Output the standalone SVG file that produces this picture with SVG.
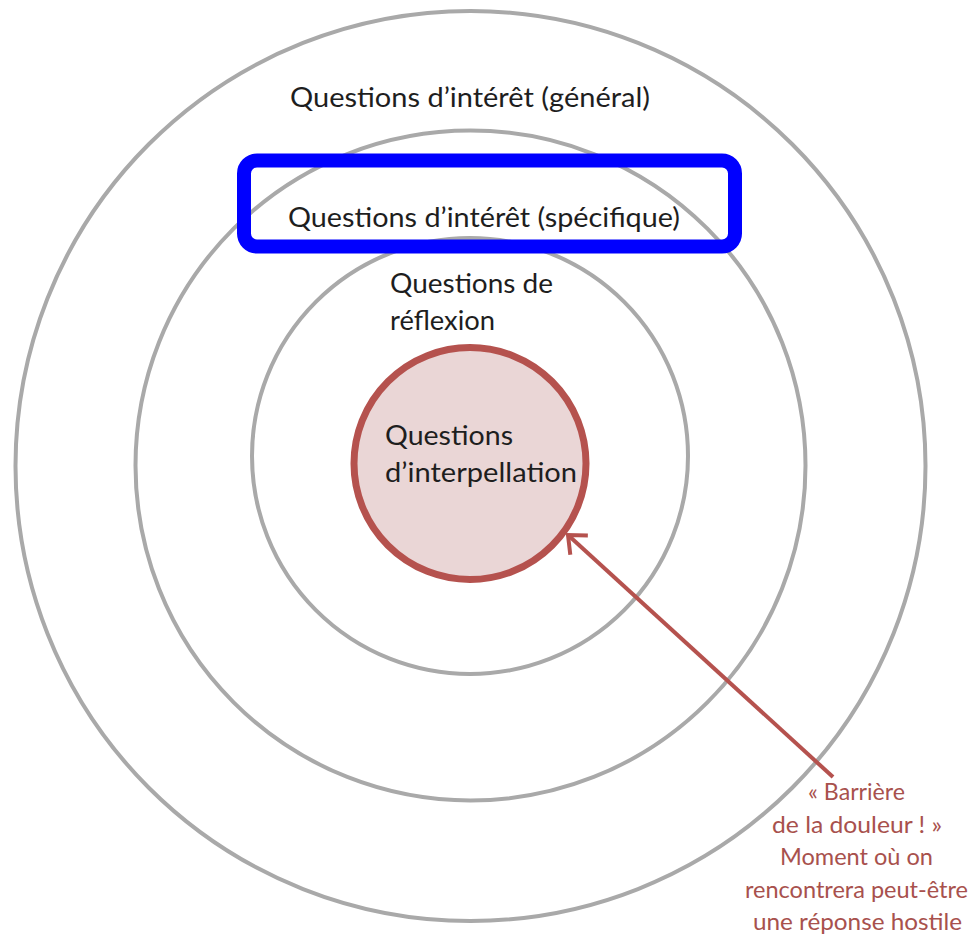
<svg xmlns="http://www.w3.org/2000/svg" width="971" height="938" viewBox="0 0 971 938">
<style>
.ring{fill:none;stroke:#a9a9a9;stroke-width:4}
.lbl{font-family:"Lato","Liberation Sans",sans-serif;font-size:26px;fill:#1e1e1e}
.note{font-family:"Lato","Liberation Sans",sans-serif;font-size:23px;fill:#a8514d}
</style>
<defs>
<marker id="arr" viewBox="-20 -16 24 32" refX="0" refY="0" markerWidth="24" markerHeight="32" markerUnits="userSpaceOnUse" orient="auto">
<path d="M-15,-13 L0,0 L-15,13" fill="none" stroke="#b5524e" stroke-width="4"/>
</marker>
</defs>
<rect width="971" height="938" fill="#fff"/>
<g id="ring-general">
<circle class="ring" cx="470.5" cy="466" r="455"/>
<text class="lbl" x="290" y="107" textLength="360" lengthAdjust="spacingAndGlyphs">Questions d’intérêt (général)</text>
</g>
<g id="ring-specifique">
<circle class="ring" cx="470.5" cy="465.5" r="335"/>
<text class="lbl" x="288" y="227" textLength="392" lengthAdjust="spacingAndGlyphs">Questions d’intérêt (spécifique)</text>
</g>
<g id="ring-reflexion">
<circle class="ring" cx="470" cy="456" r="218"/>
<text class="lbl" x="390" y="293" textLength="163" lengthAdjust="spacingAndGlyphs">Questions de</text>
<text class="lbl" x="390" y="330" textLength="105" lengthAdjust="spacingAndGlyphs">réflexion</text>
</g>
<g id="highlight">
<rect x="244" y="160.5" width="491" height="86" rx="13" fill="none" stroke="#0000ff" stroke-width="14"/>
</g>
<g id="core">
<circle cx="470" cy="463.5" r="116" fill="#ead6d6" stroke="#b5524e" stroke-width="7"/>
<text class="lbl" x="385" y="445" textLength="128" lengthAdjust="spacingAndGlyphs">Questions</text>
<text class="lbl" x="385" y="482" textLength="192" lengthAdjust="spacingAndGlyphs">d’interpellation</text>
</g>
<g id="connectors">
<line x1="833" y1="777" x2="568" y2="535" stroke="#b5524e" stroke-width="4" marker-end="url(#arr)"/>
</g>
<g id="annotation">
<text class="note" x="808" y="800" textLength="97" lengthAdjust="spacingAndGlyphs">« Barrière</text>
<text class="note" x="772" y="833" textLength="170" lengthAdjust="spacingAndGlyphs">de la douleur ! »</text>
<text class="note" x="780" y="865" textLength="153" lengthAdjust="spacingAndGlyphs">Moment où on</text>
<text class="note" x="745" y="898" textLength="223" lengthAdjust="spacingAndGlyphs">rencontrera peut-être</text>
<text class="note" x="753" y="930" textLength="209" lengthAdjust="spacingAndGlyphs">une réponse hostile</text>
</g>
</svg>
